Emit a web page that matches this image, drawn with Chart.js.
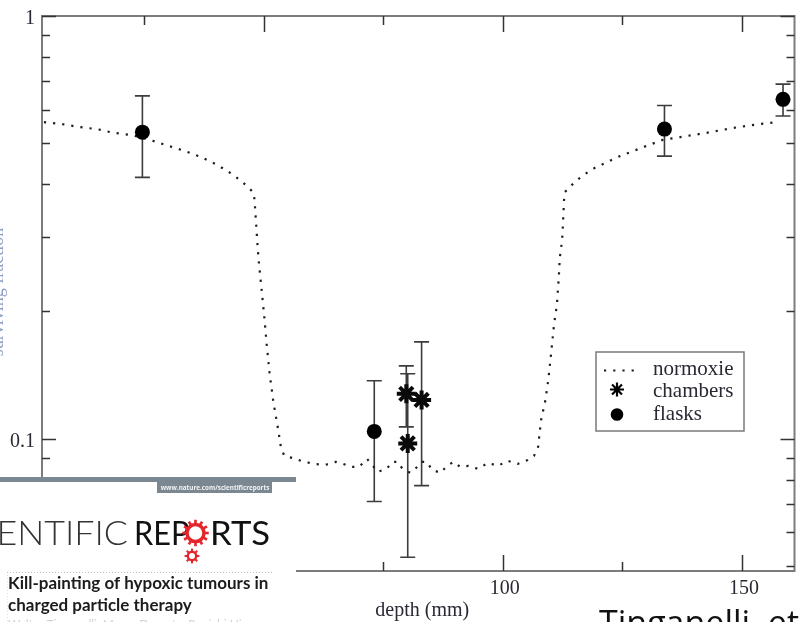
<!DOCTYPE html>
<html><head><meta charset="utf-8">
<script src="https://cdn.jsdelivr.net/npm/chart.js@4/dist/chart.umd.min.js"></script>
<style>html,body{margin:0;padding:0;background:#fff;overflow:hidden}canvas{display:block}</style>
</head><body>
<canvas id="c" width="808" height="622"></canvas>
<script>
// Survival along the beam: normoxic model curve and measured points
const normoxieDepth = [4.0, 7.7, 11.4, 15.1, 18.6, 22.3, 26.2, 30.0, 33.5, 36.8, 40.3, 43.6, 46.5, 47.9,
  48.1, 48.5, 48.9, 49.5, 50.1, 50.6, 51.2, 52.0, 53.0, 53.6, 54.3, 55.9, 57.8, 60.4, 62.9, 65.0,
  66.6, 68.3, 69.9, 71.6, 72.8, 73.8, 75.7, 76.9, 78.0, 79.0, 80.6, 82.1, 83.1, 84.1, 85.2, 87.0,
  88.3, 89.7, 91.1, 92.8, 94.8, 96.9, 99.0, 101.0, 103.1, 105.2, 106.5, 107.4, 107.6, 108.0, 108.9,
  109.5, 110.1, 110.7, 111.3, 111.7, 111.9, 112.4, 112.6, 112.8, 113.0, 114.4, 116.1, 117.5, 119.2,
  124.1, 129.5, 133.4, 137.1, 142.6, 148.0, 153.6, 157.7];
const normoxieSF = [0.561, 0.555, 0.546, 0.540, 0.529, 0.523, 0.509, 0.493, 0.479, 0.464, 0.444, 0.421, 0.396, 0.381,
  0.361, 0.308, 0.265, 0.227, 0.194, 0.167, 0.143, 0.122, 0.105, 0.095, 0.091, 0.090, 0.0886, 0.0871, 0.0867, 0.0881,
  0.0871, 0.0857, 0.0857, 0.0895, 0.0862, 0.0834, 0.0848, 0.0881, 0.0881, 0.0848, 0.0830, 0.0857, 0.0881, 0.0881, 0.0843, 0.0830,
  0.0862, 0.0881, 0.0857, 0.0862, 0.0848, 0.0876, 0.0862, 0.0886, 0.0871, 0.0890, 0.0910, 0.0958, 0.101, 0.1107, 0.1234,
  0.1377, 0.1595, 0.186, 0.207, 0.241, 0.2676, 0.295, 0.329, 0.367, 0.3834, 0.398, 0.4137, 0.425, 0.437,
  0.464, 0.490, 0.509, 0.517, 0.529, 0.543, 0.555, 0.561];

const chambersDepth = [79.8, 80.1, 83.0];
const chambersSF = [0.1276, 0.0974, 0.1234];
const chambersErr = [0.021, 0.045, 0.046];

const flasksDepth = [24.6, 73.1, 133.8, 158.6];
const flasksSF = [0.531, 0.104, 0.540, 0.635];
const flasksErr = [0.116, 0.033, 0.074, 0.055];

const seriesLabels = ['normoxie', 'chambers', 'flasks'];
const xMajorTicks = [50, 100, 150];
const xMinorTicks = [25, 75, 125];
const yMajorTicks = [1, 0.1];
const yMinorTicks = [0.9, 0.8, 0.7, 0.6, 0.5, 0.4, 0.3, 0.2, 0.09, 0.08, 0.07, 0.06, 0.05];
const xTitle = 'depth (mm)';
const yTitle = 'surviving fraction';

const zip = (xs, ys) => xs.map((x, i) => ({x, y: ys[i]}));

const SERIF = '"Liberation Serif", "DejaVu Serif", serif';
const INK = '#2b2833';

// error bars, drawn under the markers
const errorBars = {
  id: 'errorBars',
  beforeDatasetsDraw(chart) {
    const {ctx, scales: {x, y}} = chart;
    const sets = [[chambersDepth, chambersSF, chambersErr], [flasksDepth, flasksSF, flasksErr]];
    ctx.save();
    ctx.strokeStyle = '#3c3c3c';
    ctx.lineWidth = 1.6;
    for (const [xs, vs, es] of sets) {
      xs.forEach((d, i) => {
        const px = x.getPixelForValue(d);
        const top = y.getPixelForValue(vs[i] + es[i]);
        const bot = y.getPixelForValue(vs[i] - es[i]);
        ctx.beginPath();
        ctx.moveTo(px, top); ctx.lineTo(px, bot);
        ctx.moveTo(px - 7.5, top); ctx.lineTo(px + 7.5, top);
        ctx.moveTo(px - 7.5, bot); ctx.lineTo(px + 7.5, bot);
        ctx.stroke();
      });
    }
    ctx.restore();
  }
};

// box, inward ticks, tick labels, axis titles and the key
const frame = {
  id: 'frame',
  afterDatasetsDraw(chart) {
    const {ctx, chartArea: a, scales: {x, y}} = chart;
    ctx.save();
    ctx.strokeStyle = '#7c7c7c';
    ctx.lineWidth = 2;
    ctx.strokeRect(a.left, a.top, a.right - a.left, a.bottom - a.top);

    ctx.strokeStyle = '#333';
    ctx.lineWidth = 1.5;
    const yTick = (v, len) => {
      const py = Math.round(y.getPixelForValue(v)) + 0.5;
      ctx.beginPath();
      ctx.moveTo(a.left, py); ctx.lineTo(a.left + len, py);
      ctx.moveTo(a.right, py); ctx.lineTo(a.right - len, py);
      ctx.stroke();
    };
    const xTick = (v, len) => {
      const px = Math.round(x.getPixelForValue(v)) + 0.5;
      ctx.beginPath();
      ctx.moveTo(px, a.bottom); ctx.lineTo(px, a.bottom - len);
      ctx.moveTo(px, a.top); ctx.lineTo(px, a.top + len);
      ctx.stroke();
    };
    yMinorTicks.forEach(v => yTick(v, 8));
    yMajorTicks.forEach(v => yTick(v, 14));
    xMinorTicks.forEach(v => xTick(v, 9));
    xMajorTicks.forEach(v => xTick(v, 16));

    ctx.fillStyle = INK;
    ctx.font = '20px ' + SERIF;
    ctx.textBaseline = 'alphabetic';
    ctx.textAlign = 'right';
    yMajorTicks.forEach(v => ctx.fillText(String(v), a.left - 7, y.getPixelForValue(v) + 8));
    ctx.textAlign = 'center';
    xMajorTicks.forEach(v => ctx.fillText(String(v), x.getPixelForValue(v) + 2, a.bottom + 23));
    ctx.fillText(xTitle, (a.left + a.right) / 2 + 4, a.bottom + 45);

    // y title, running up the left edge (mostly beyond the page)
    ctx.save();
    ctx.translate(2.5, 292);
    ctx.rotate(-Math.PI / 2);
    ctx.fillStyle = '#8fa0c4';
    ctx.font = '18px ' + SERIF;
    ctx.fillText(yTitle, 0, 0);
    ctx.restore();

    // key
    const kx = 596, ky = 352, kw = 148, kh = 79;
    ctx.fillStyle = '#fff';
    ctx.fillRect(kx, ky, kw, kh);
    ctx.strokeStyle = '#7a7a7a';
    ctx.lineWidth = 1.5;
    ctx.strokeRect(kx, ky, kw, kh);
    const ds = chart.data.datasets;
    ctx.strokeStyle = ds[0].borderColor;
    ctx.lineWidth = 2.2;
    ctx.setLineDash([2.2, 7]);
    ctx.beginPath(); ctx.moveTo(604, 370.5); ctx.lineTo(636, 370.5); ctx.stroke();
    ctx.setLineDash([]);
    ctx.strokeStyle = '#000';
    Chart.helpers.drawPoint(ctx, {pointStyle: 'star', radius: 7, borderWidth: 3.4}, 617, 389.5);
    ctx.fillStyle = '#000';
    ctx.beginPath(); ctx.arc(617, 414.5, 6.3, 0, Math.PI * 2); ctx.fill();
    ctx.fillStyle = INK;
    ctx.font = '21px ' + SERIF;
    ctx.textAlign = 'left';
    [375, 397, 420].forEach((by, i) => ctx.fillText(seriesLabels[i], 653, by));
    ctx.restore();
  }
};

function gear(ctx, cx, cy, r, lw, teeth, tl, tw) {
  ctx.beginPath(); ctx.arc(cx, cy, r, 0, Math.PI * 2);
  ctx.lineWidth = lw; ctx.stroke();
  for (let i = 0; i < teeth; i++) {
    const ang = i * 2 * Math.PI / teeth;
    ctx.save();
    ctx.translate(cx, cy); ctx.rotate(ang);
    ctx.fillRect(-tw / 2, -(r + lw / 2 + tl), tw, tl + 1);
    ctx.restore();
  }
}

function stretchText(ctx, text, x, y, sx, align) {
  ctx.save();
  ctx.translate(x, y);
  ctx.scale(sx, 1);
  ctx.textAlign = align;
  ctx.fillText(text, 0, 0);
  ctx.restore();
}

// journal header card and citation line along the bottom
const overlay = {
  id: 'overlay',
  afterDraw(chart) {
    const {ctx} = chart;
    ctx.save();
    ctx.fillStyle = '#fff';
    ctx.fillRect(0, 477, 296, 145);
    ctx.fillStyle = '#7b8791';
    ctx.fillRect(0, 477, 296, 5);
    ctx.fillRect(157, 477, 115, 16);
    ctx.fillStyle = '#f4f4f4';
    ctx.font = 'bold 6.3px "Open Sans", sans-serif';
    ctx.textAlign = 'center';
    ctx.textBaseline = 'alphabetic';
    ctx.fillText('www.nature.com/scientificreports', 215, 490);

    ctx.fillStyle = '#333';
    ctx.font = '300 33px Lato, sans-serif';
    stretchText(ctx, 'SCIENTIFIC', 128, 545, 1.085, 'right');
    ctx.fillStyle = '#111';
    ctx.font = '400 33px Lato, sans-serif';
    stretchText(ctx, 'REP', 134, 545, 0.93, 'left');
    stretchText(ctx, 'RTS', 210, 545, 1.05, 'left');
    ctx.fillStyle = '#e3262d';
    ctx.strokeStyle = '#e3262d';
    gear(ctx, 195.5, 533, 8.5, 3.5, 12, 3, 2.6);
    gear(ctx, 192, 556, 4.2, 2.4, 8, 2, 2);

    ctx.strokeStyle = '#bdbdbd';
    ctx.lineWidth = 1;
    ctx.setLineDash([1, 2]);
    ctx.beginPath(); ctx.moveTo(7, 572.5); ctx.lineTo(272, 572.5); ctx.stroke();
    ctx.strokeStyle = '#e0e0e0';
    ctx.beginPath(); ctx.moveTo(7.5, 575); ctx.lineTo(7.5, 622); ctx.stroke();
    ctx.setLineDash([]);

    ctx.fillStyle = '#1c1c1c';
    ctx.font = 'bold 17px Lato, sans-serif';
    ctx.textAlign = 'left';
    ctx.fillText('Kill-painting of hypoxic tumours in', 8, 589);
    ctx.fillText('charged particle therapy', 8, 611);
    ctx.fillStyle = '#d2d2d2';
    ctx.font = '12px Lato, sans-serif';
    ctx.fillText('Walter Tinganelli, Marco Durante, Ryoichi Hirayama', 8, 628);

    ctx.fillStyle = '#111';
    ctx.font = '34px "Open Sans", sans-serif';
    ctx.fillText('Tinganelli, et al.', 599, 635);
    ctx.restore();
  }
};

new Chart(document.getElementById('c'), {
  type: 'scatter',
  data: {
    datasets: [
      {
        label: seriesLabels[0], type: 'line', data: zip(normoxieDepth, normoxieSF),
        borderColor: '#1e1e1e', borderWidth: 2.2, borderDash: [2.2, 7], pointRadius: 0,
        fill: false, tension: 0, order: 3
      },
      {
        label: seriesLabels[1], data: zip(chambersDepth, chambersSF),
        pointStyle: 'star', pointRadius: 9.5, borderWidth: 4, borderColor: '#0a0a0a',
        backgroundColor: '#0a0a0a', order: 2
      },
      {
        label: seriesLabels[2], data: zip(flasksDepth, flasksSF),
        pointStyle: 'circle', pointRadius: 7.5, borderWidth: 0, backgroundColor: '#000',
        borderColor: '#000', order: 1
      }
    ]
  },
  options: {
    responsive: false,
    animation: false,
    devicePixelRatio: 1,
    layout: {padding: {left: 42, top: 16, right: 2, bottom: 51}},
    scales: {
      x: {type: 'linear', min: 3.6, max: 161, display: false},
      y: {type: 'logarithmic', min: 0.0486, max: 1, display: false}
    },
    plugins: {legend: {display: false}, tooltip: {enabled: false}}
  },
  plugins: [errorBars, frame, overlay]
});
</script>
</body></html>
